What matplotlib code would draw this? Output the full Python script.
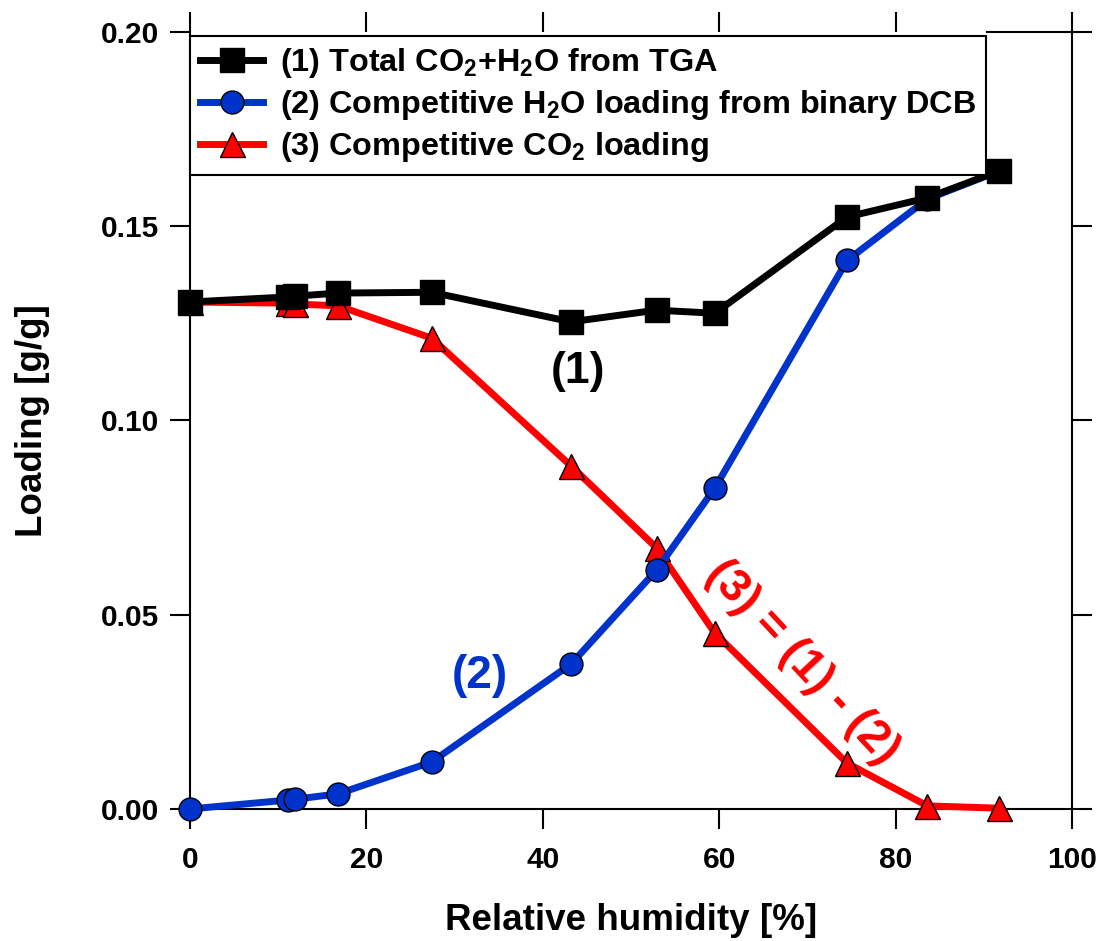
import numpy as np
import matplotlib.pyplot as plt

plt.rcParams['font.family'] = ['Liberation Sans', 'DejaVu Sans']
plt.rcParams['font.weight'] = 'bold'
plt.rcParams['mathtext.default'] = 'regular'

# Relative humidity [%]
rh = [0.0, 11.1, 11.9, 16.8, 27.4, 43.2, 52.9, 59.5, 74.5, 83.6, 91.7]

# (1) total CO2 + H2O from TGA
total = [0.1305, 0.1318, 0.1320, 0.1328, 0.1330, 0.1254, 0.1284, 0.1276, 0.1524, 0.1573, 0.1642]
# (2) competitive H2O loading from binary DCB
h2o = [0.0, 0.0023, 0.0025, 0.0039, 0.0121, 0.0373, 0.0615, 0.0826, 0.1412, 0.1570, 0.1642]
# (3) competitive CO2 loading
co2 = [0.1305, 0.1302, 0.1300, 0.1295, 0.1212, 0.0883, 0.0672, 0.0453, 0.0118, 0.0008, 0.0002]

blue = '#0033cc'
red = '#ff0000'

fig = plt.figure(figsize=(11.02, 9.41), dpi=100)
ax = fig.add_axes([0.1724, 0.1403, 0.8004, 0.8257])

l3, = ax.plot(rh, co2, '-^', color=red, lw=5, ms=18, mec='black', mew=1,
              label='(3) Competitive CO$_2$ loading', clip_on=False, zorder=3)
l2, = ax.plot(rh, h2o, '-o', color=blue, lw=5, ms=16.5, mec='black', mew=1,
              label='(2) Competitive H$_2$O loading from binary DCB', clip_on=False, zorder=4)
l1, = ax.plot(rh, total, '-s', color='black', lw=5, ms=17, mec='black', mew=1,
              label='(1) Total CO$_2$+H$_2$O from TGA', clip_on=False, zorder=5)

ax.set_xlim(0, 100)
ax.set_ylim(0, 0.2)
ax.set_xticks(np.arange(0, 101, 20))
ax.set_yticks(np.arange(0, 0.201, 0.05))
ax.set_yticklabels(['%.2f' % v for v in np.arange(0, 0.201, 0.05)])

for s in ax.spines.values():
    s.set_linewidth(1.5)
ax.spines['top'].set_bounds(90.4, 100)

ax.tick_params(axis='both', which='major', direction='out', length=14.5, width=1.5,
               top=True, right=True, labelsize=21.5)
ax.tick_params(axis='x', pad=12)
ax.tick_params(axis='y', pad=8)

ax.set_xlabel('Relative humidity [%]', fontsize=26.5, fontweight='bold', labelpad=21)
ax.set_ylabel('Loading [g/g]', fontsize=26.5, fontweight='bold', labelpad=36)

leg = ax.legend(handles=[l1, l2, l3], loc='upper left', bbox_to_anchor=(0.0, 0.995),
                fontsize=23.3, frameon=True, fancybox=False, edgecolor='black',
                framealpha=1, handlelength=1.95, handletextpad=0.5, borderpad=0.32,
                borderaxespad=0, labelspacing=0.25)
leg.get_frame().set_linewidth(1.5)
leg.set_zorder(10)

ax.text(44.0, 0.1125, '(1)', fontsize=32, fontweight='bold', color='black',
        ha='center', va='center')
ax.text(32.9, 0.0342, '(2)', fontsize=33, fontweight='bold', color=blue,
        ha='center', va='center')
ax.text(69.4, 0.0378, '(3) = (1) - (2)', fontsize=33, fontweight='bold', color=red,
        ha='center', va='center', rotation=-47, rotation_mode='anchor')

fig.savefig('out.png', dpi=100)
